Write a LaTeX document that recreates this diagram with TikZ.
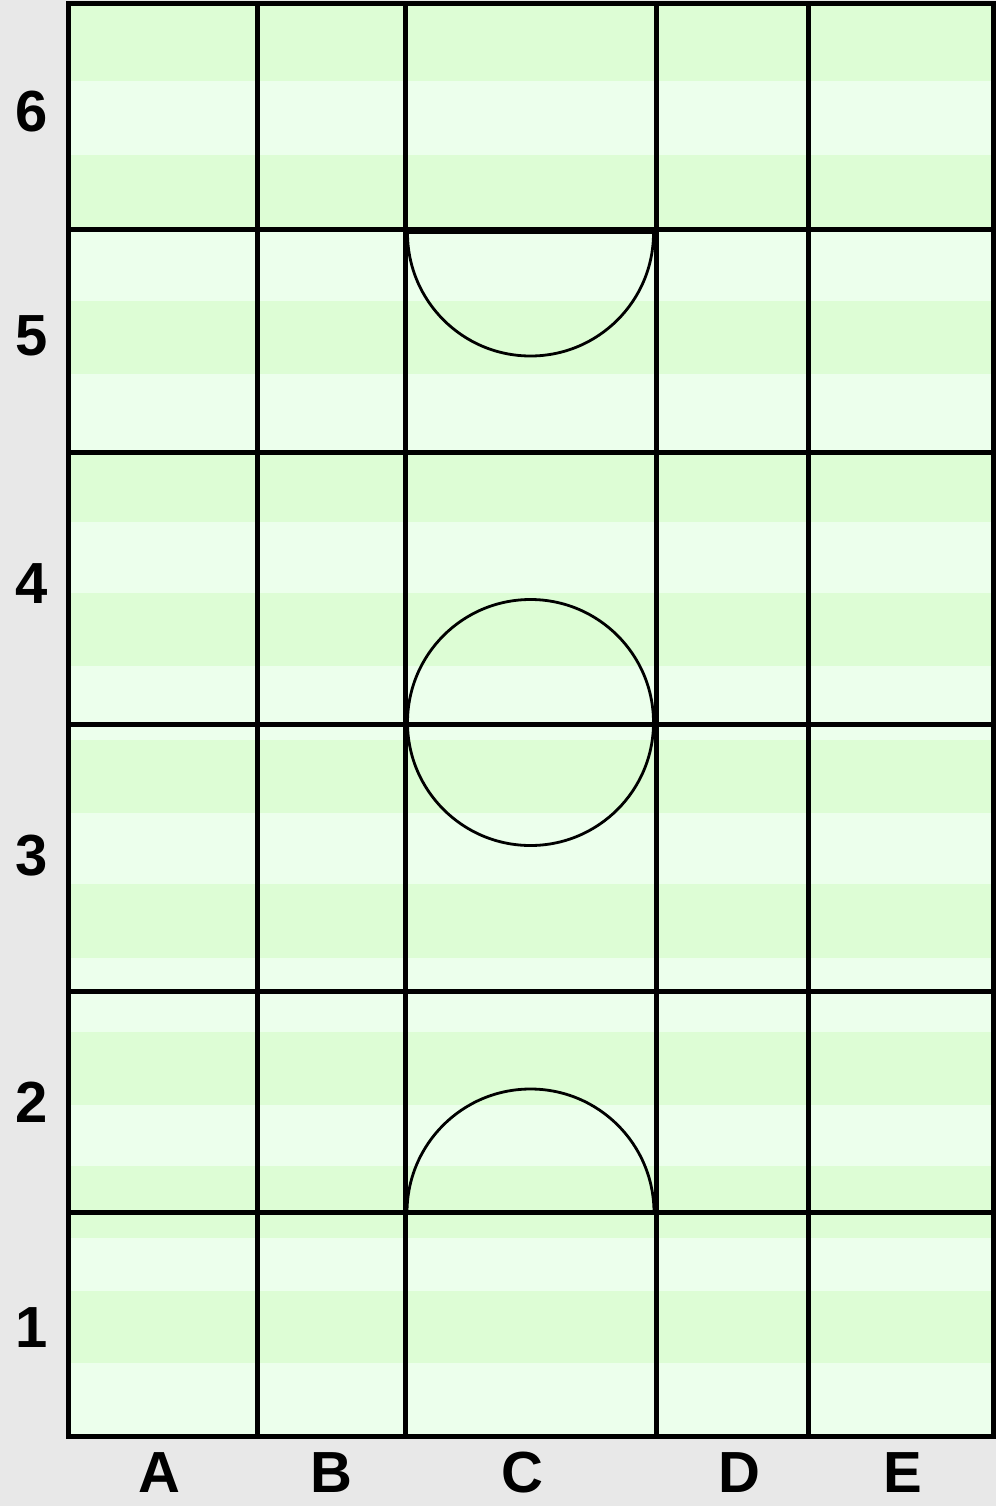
\documentclass[tikz,border=0pt]{standalone}
\usepackage{fontspec}
\setmainfont{Liberation Sans}
\definecolor{bggray}{HTML}{E8E8E8}
\definecolor{lightg}{HTML}{ECFFEC}
\definecolor{darkg}{HTML}{DDFDD5}
\tikzset{
  gridline/.style={line width=5pt, line cap=rect},
  shapeline/.style={line width=2.8pt},
  lab/.style={inner sep=0pt, font=\fontsize{58}{60}\selectfont\bfseries},
}
\begin{document}
\begin{tikzpicture}[x=1pt,y=-1pt]
\fill[bggray] (0,0) rectangle (996,1506);
\useasboundingbox (0,0) rectangle (996,1506);
% stripes
\fill[lightg] (68,3.5) rectangle (993.5,1436);
\foreach \a/\b in {3.5/81,155/229.5,301/374,452.5/522,593/666,740/813,884/958,1032/1105,1166/1238,1291/1363}{
  \fill[darkg] (68,\a) rectangle (993.5,\b);
}
% shapes in column C
\begin{scope}
  \clip (400,233) rectangle (665,400);
  \draw[shapeline] (530.5,233) circle[radius=123pt];
\end{scope}
\draw[shapeline] (407.5,233) -- (653.5,233);
\draw[shapeline] (530.5,722.5) circle[radius=123pt];
\begin{scope}
  \clip (400,1212.5) rectangle (665,1060);
  \draw[shapeline] (530.5,1212.5) circle[radius=123.5pt];
\end{scope}
% grid lines
\foreach \x in {68,257,405,656.5,808,993.5}{
  \draw[gridline] (\x,3.5) -- (\x,1436);
}
\foreach \y in {3.5,229.5,452.5,724.5,991.5,1212.5,1436}{
  \draw[gridline] (68,\y) -- (993.5,\y);
}
% labels
\node[lab] (r6) at (31.5,112) {6};
\node[lab] (r5) at (31.5,336) {5};
\node[lab] (r4) at (31.5,584) {4};
\node[lab] (r3) at (31.5,856) {3};
\node[lab] (r2) at (31.5,1102) {2};
\node[lab] (r1) at (31.5,1328) {1};
\node[lab] (cA) at (159.5,1472.5) {A};
\node[lab] (cB) at (331,1472.5) {B};
\node[lab] (cC) at (522,1472.5) {C};
\node[lab] (cD) at (739,1472.5) {D};
\node[lab] (cE) at (903,1472.5) {E};
\end{tikzpicture}
\end{document}
